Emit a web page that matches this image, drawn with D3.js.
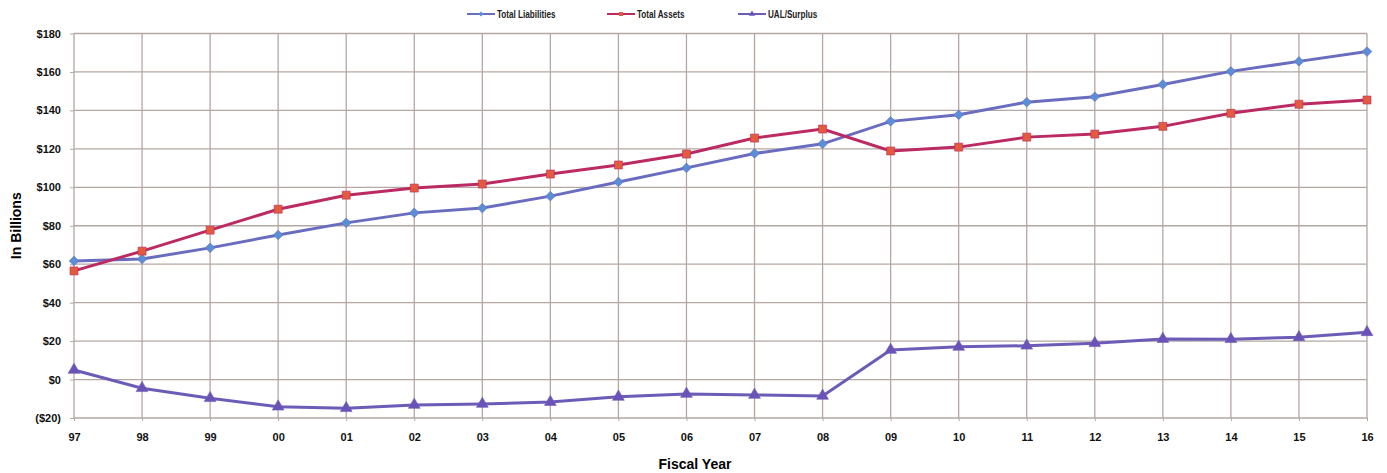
<!DOCTYPE html>
<html lang="en">
<head>
<meta charset="utf-8">
<script src="https://cdn.jsdelivr.net/npm/d3@7"></script>
<style>
  body { margin: 0; background: #fff; }
  .axis text { font-family: Arial, "Liberation Sans", sans-serif; font-size: 11px; font-weight: bold; fill: #111; }
</style>
</head>
<body>
<script>
const years = ["97","98","99","00","01","02","03","04","05","06","07","08","09","10","11","12","13","14","15","16"];
const liabilities = [61.7, 62.7, 68.5, 75.2, 81.5, 86.7, 89.2, 95.4, 102.8, 110.1, 117.6, 122.6, 134.3, 137.7, 144.3, 147.1, 153.5, 160.3, 165.5, 170.6];
const assets = [56.5, 66.8, 77.7, 88.6, 95.9, 99.6, 101.7, 106.9, 111.6, 117.3, 125.6, 130.3, 118.9, 120.9, 126.1, 127.7, 131.7, 138.5, 143.2, 145.4];
const ual = [5.0, -4.5, -9.7, -14.1, -14.9, -13.2, -12.7, -11.7, -9.0, -7.5, -8.0, -8.5, 15.4, 17.0, 17.6, 18.9, 21.1, 21.0, 22.0, 24.6];
const yTicks = [-20, 0, 20, 40, 60, 80, 100, 120, 140, 160, 180];

const w = 1387, h = 473;
const padLeft = 74, padRight = 1367, padTop = 33.5, padBottom = 418;

const svg = d3.select("body").append("svg").attr("width", w).attr("height", h);

const x = d3.scalePoint().domain(years).range([padLeft, padRight]);
const y = d3.scaleLinear().domain([-20, 180]).range([padBottom, padTop]);

const gridColor = "#b4a7a2";

// grid
svg.append("g").selectAll("line").data(yTicks).join("line")
  .attr("x1", padLeft).attr("x2", padRight)
  .attr("y1", d => y(d)).attr("y2", d => y(d))
  .attr("stroke", gridColor).attr("stroke-width", 1.3);
svg.append("g").selectAll("line").data(years).join("line")
  .attr("x1", d => x(d)).attr("x2", d => x(d))
  .attr("y1", padTop).attr("y2", padBottom)
  .attr("stroke", gridColor).attr("stroke-width", 1.3);

// axes
const fmt = d => d < 0 ? `($${-d})` : `$${d}`;
const yAxis = svg.append("g").attr("class", "axis")
  .attr("transform", `translate(${padLeft},0)`)
  .call(d3.axisLeft(y).tickValues(yTicks).tickFormat(fmt).tickSize(4).tickPadding(9));
yAxis.select(".domain").remove();
yAxis.selectAll("line").attr("stroke", gridColor);

const xAxis = svg.append("g").attr("class", "axis")
  .attr("transform", `translate(0,${padBottom})`)
  .call(d3.axisBottom(x).tickSize(3).tickPadding(12));
xAxis.select(".domain").remove();
xAxis.selectAll("line").attr("stroke", gridColor);

// axis titles
svg.append("text")
  .attr("transform", `translate(21,${(padTop + padBottom) / 2}) rotate(-90)`)
  .attr("text-anchor", "middle")
  .style("font-family", "Arial, 'Liberation Sans', sans-serif")
  .style("font-size", "14px").style("font-weight", "bold")
  .text("In Billions");
svg.append("text")
  .attr("x", 695).attr("y", 469)
  .attr("text-anchor", "middle")
  .style("font-family", "Arial, 'Liberation Sans', sans-serif")
  .style("font-size", "14px").style("font-weight", "bold")
  .text("Fiscal Year");

// series
const series = [
  { name: "Total Liabilities", values: liabilities, line: "#6a6cc0", marker: "#5a8fd6", sym: d3.symbolDiamond2, size: 60, legendX: 467 },
  { name: "Total Assets", values: assets, line: "#bb2a62", marker: "#e35b3e", sym: d3.symbolSquare, size: 64, legendX: 607 },
  { name: "UAL/Surplus", values: ual, line: "#6c5cb8", marker: "#6a52b6", sym: d3.symbolTriangle, size: 60, legendX: 738 }
];

const line = d3.line().x((d, i) => x(years[i])).y(d => y(d));

series.forEach(s => {
  svg.append("path")
    .attr("d", line(s.values))
    .attr("fill", "none")
    .attr("stroke", s.line)
    .attr("stroke-width", 3);
  svg.append("g").selectAll("path").data(s.values).join("path")
    .attr("transform", (d, i) => `translate(${x(years[i])},${y(d)})`)
    .attr("d", d3.symbol().type(s.sym).size(s.size))
    .attr("fill", s.marker)
    .attr("stroke", s.line).attr("stroke-width", 0.6);

  // legend
  const lg = svg.append("g").attr("transform", `translate(${s.legendX},14)`);
  lg.append("line").attr("x1", 0).attr("x2", 28).attr("stroke", s.line).attr("stroke-width", 2);
  lg.append("path").attr("transform", "translate(14,0)")
    .attr("d", d3.symbol().type(s.sym).size(16))
    .attr("fill", s.marker);
  lg.append("text").attr("transform", "translate(30,4) scale(0.74,1)")
    .style("font-family", "'Liberation Sans Narrow', 'Arial Narrow', Arial, sans-serif")
    .style("font-size", "11px").style("font-weight", "bold")
    .attr("fill", "#222")
    .text(s.name);
});
</script>
</body>
</html>
